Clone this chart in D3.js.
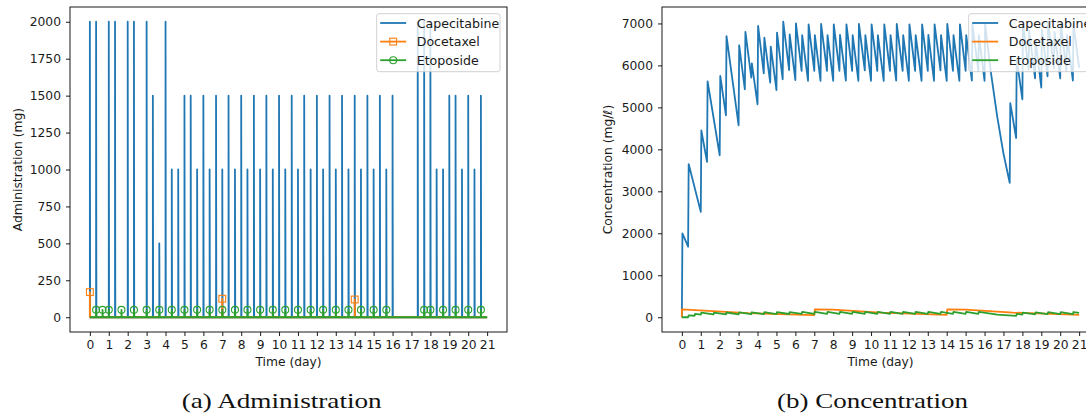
<!DOCTYPE html>
<html>
<head>
<meta charset="utf-8">
<script src="https://cdn.jsdelivr.net/npm/d3@7"></script>
<style>
  body { margin: 0; background: #fff; }
  svg { display: block; font-family: "DejaVu Sans", sans-serif; }
</style>
</head>
<body>
<svg id="chart" width="1086" height="414"></svg>
<script>
// ---- Dosing schedule: Capecitabine (day, mg) ----
const capeDoseDays = [0, 0.33, 1, 1.33, 2, 2.33, 3, 3.33, 3.67, 4,
  4.33, 4.67, 5, 5.33, 5.67, 6, 6.33, 6.67, 7, 7.33,
  7.67, 8, 8.33, 8.67, 9, 9.33, 9.67, 10, 10.33, 10.67,
  11, 11.33, 11.67, 12, 12.33, 12.67, 13, 13.33, 13.67, 14,
  14.33, 14.67, 15, 15.33, 15.67, 16,
  17.33, 17.67, 18, 18.33, 18.67, 19, 19.33, 19.67, 20, 20.33, 20.67];
const capeDoseMg = [2000, 2000, 2000, 2000, 2000, 2000, 2000, 1500, 500, 2000,
  1000, 1000, 1500, 1500, 1000, 1500, 1000, 1500, 1000, 1500,
  1000, 1500, 1000, 1500, 1000, 1500, 1000, 1500, 1000, 1500,
  1000, 1500, 1000, 1500, 1000, 1500, 1000, 1500, 1000, 1500,
  1000, 1500, 1000, 1500, 1000, 1500,
  2000, 2000, 2000, 1000, 1000, 1500, 1500, 1000, 1500, 1000, 1500];

// ---- Dosing schedule: Docetaxel ----
const doceDoseDays = [0, 7, 14];
const doceDoseMg = [170, 125, 120];

// ---- Dosing schedule: Etoposide ----
const etopDoseDays = [0.33, 0.67, 1, 1.67, 2.33, 3, 3.67, 4.33, 5, 5.67,
  6.33, 7, 7.67, 8.33, 9, 9.67, 10.33, 11, 11.67, 12.33,
  13, 13.67, 14.33, 15, 15.67, 17.67, 18, 18.67, 19.33, 20, 20.67];
const etopDoseMg = etopDoseDays.map(() => 50);

// ---- Plasma concentration: Capecitabine, value just before / just after each dose ----
const capeTrough = [0, 1680, 2510, 3700, 3860, 4810, 4570, 5430, 5710, 5070,
  5810, 5590, 5410, 5670, 5890, 5650, 5870, 5630, 5870, 5630,
  5870, 5630, 5870, 5640, 5870, 5630, 5880, 5630, 5870, 5630,
  5870, 5640, 5870, 5630, 5870, 5630, 5870, 5630, 5880, 5630,
  5870, 5630, 5870, 5640, 5870, 5630,
  3200, 4270, 5190, 5900, 5690, 5470, 5740, 5930, 5690, 5870, 5640];
const capePeak = [2000, 3650, 4450, 5620, 5750, 6700, 6480, 6800, 6050, 6940,
  6660, 6450, 6780, 7040, 6740, 7000, 6720, 6980, 6720, 6990,
  6720, 6980, 6730, 6980, 6720, 6990, 6720, 6980, 6720, 6980,
  6720, 6990, 6720, 6980, 6720, 6980, 6730, 6980, 6720, 6990,
  6720, 6980, 6720, 6980, 6720, 6980,
  5100, 6150, 7030, 6820, 6600, 6850, 7040, 6800, 7000, 6730, 6990];
// washout between day 16 and day 17.33, and the last sample
const capeGapDays = [16.33, 16.67, 17.0, 21];
const capeGapMg = [5850, 4780, 3900, 5950];

// ---- Plasma concentration: Docetaxel ----
const doceConcDays = [0, 0, 3.5, 7, 7.03, 8, 10.5, 14, 14.03, 15, 17.5, 21];
const doceConcMg = [0, 185, 98, 50, 188, 180, 110, 55, 188, 180, 110, 55];

// ---- Plasma concentration: Etoposide ----
const etopTrough = [0, 35, 63, 66, 68, 70, 73, 74, 76, 77,
  78, 79, 79, 80, 80, 80, 80, 80, 80, 80,
  80, 80, 80, 80, 80, 30, 62, 68, 72, 74, 76];
const etopPeak = [45, 80, 108, 111, 113, 116, 118, 120, 122, 123,
  125, 126, 127, 128, 128, 128, 128, 128, 128, 128,
  128, 128, 128, 128, 128, 78, 110, 116, 120, 122, 124];
const etopExtraDays = [0, 16.67, 21];
const etopExtraMg = [0, 62, 102];

const seriesNames = ["Capecitabine", "Docetaxel", "Etoposide"];
const dayTicks = d3.range(0, 22);
const adminTicks = d3.range(0, 2001, 250);
const concTicks = d3.range(0, 7001, 1000);

// ---- drawing ----
const svg = d3.select("#chart");
const COLORS = ["#1f77b4", "#ff7f0e", "#2ca02c"];
const PW = 437, PH = 325, TOP = 7;
const RISE = 0.03;   // days from pre-dose sample to post-dose sample
const STEP = 0.015;  // sampling step of the dose pulses
const LW = 1.8;
const FS = "12.3px";

function pad(ext) {
  const r = ext[1] - ext[0];
  return [ext[0] - 0.05 * r, ext[1] + 0.05 * r];
}

function panel(idx, left, yDomain, yTicks, yLabel, yLabelX) {
  const x = d3.scaleLinear().domain(pad([0, 21])).range([left, left + PW]);
  const y = d3.scaleLinear().domain(yDomain).range([TOP + PH, TOP]);
  const g = svg.append("g");
  const cid = "clip" + idx;
  svg.append("defs").append("clipPath").attr("id", cid)
    .append("rect").attr("x", left).attr("y", TOP).attr("width", PW).attr("height", PH);
  const plot = g.append("g").attr("clip-path", `url(#${cid})`);
  const axes = g.append("g");

  const xa = axes.append("g").attr("transform", `translate(0,${TOP + PH})`)
    .call(d3.axisBottom(x).tickValues(dayTicks).tickFormat(d3.format("d")).tickSize(4).tickPadding(4.5).tickSizeOuter(0));
  const ya = axes.append("g").attr("transform", `translate(${left},0)`)
    .call(d3.axisLeft(y).tickValues(yTicks).tickFormat(d3.format("d")).tickSize(4).tickPadding(5).tickSizeOuter(0));
  [xa, ya].forEach(a => {
    a.select(".domain").remove();
    a.selectAll("line").attr("stroke", "#000").attr("stroke-width", 0.9);
    a.selectAll("text").attr("fill", "#1a1a1a").style("font-size", FS).style("font-family", "DejaVu Sans");
  });

  axes.append("text").attr("x", x(10.5)).attr("y", 366)
    .attr("text-anchor", "middle").style("font-size", FS).attr("fill", "#1a1a1a")
    .text("Time (day)");
  axes.append("text").attr("transform", `translate(${yLabelX},${TOP + PH / 2}) rotate(-90)`)
    .attr("text-anchor", "middle").attr("dy", "0.35em").style("font-size", FS).attr("fill", "#1a1a1a")
    .text(yLabel);
  return { x, y, plot, axes, left };
}

function frame(p) {
  p.axes.append("rect").attr("x", p.left).attr("y", TOP).attr("width", PW).attr("height", PH)
    .attr("fill", "none").attr("stroke", "#000").attr("stroke-width", 0.9);
}

function drawLine(p, pts, color) {
  const line = d3.line().x(d => p.x(d[0])).y(d => p.y(d[1]));
  p.plot.append("path").attr("d", line(pts)).attr("fill", "none")
    .attr("stroke", color).attr("stroke-width", LW).attr("stroke-linejoin", "round");
}

function spikes(days, mg) {
  const pts = [[0, 0]];
  days.forEach((t, i) => { pts.push([t, 0], [t, mg[i]], [t + STEP, 0]); });
  pts.push([21, 0]);
  return pts;
}

function square(sel, cx, cy, color) {
  sel.append("rect").attr("x", cx - 3.4).attr("y", cy - 3.4).attr("width", 6.8).attr("height", 6.8)
    .attr("fill", "none").attr("stroke", color).attr("stroke-width", 1.1);
}
function circle(sel, cx, cy, color) {
  sel.append("circle").attr("cx", cx).attr("cy", cy).attr("r", 3.5)
    .attr("fill", "none").attr("stroke", color).attr("stroke-width", 1.1);
}

function legend(p, withMarkers) {
  const bx = p.left + 306.7, by = 13.7;
  const lg = p.axes.append("g");
  lg.append("rect").attr("x", bx).attr("y", by).attr("width", 123.3).attr("height", 58)
    .attr("rx", 2.5).attr("fill", "#fff").attr("fill-opacity", 0.8)
    .attr("stroke", "#cccccc").attr("stroke-width", 0.9);
  seriesNames.forEach((name, i) => {
    const ry = by + 9.3 + i * 18.6;
    lg.append("line").attr("x1", bx + 3.5).attr("x2", bx + 29.5).attr("y1", ry).attr("y2", ry)
      .attr("stroke", COLORS[i]).attr("stroke-width", LW);
    if (withMarkers && i === 1) square(lg, bx + 16.5, ry, COLORS[i]);
    if (withMarkers && i === 2) circle(lg, bx + 16.5, ry, COLORS[i]);
    lg.append("text").attr("x", bx + 40).attr("y", ry).attr("dy", "0.36em")
      .style("font-size", "12.6px").attr("fill", "#1a1a1a").text(name);
  });
}

// (a) Administration
const pa = panel(0, 70, pad([0, 2000]), adminTicks, "Administration (mg)", 18);
drawLine(pa, spikes(capeDoseDays, capeDoseMg), COLORS[0]);
drawLine(pa, spikes(doceDoseDays, doceDoseMg), COLORS[1]);
doceDoseDays.forEach((t, i) => square(pa.plot, pa.x(t), pa.y(doceDoseMg[i]), COLORS[1]));
drawLine(pa, spikes(etopDoseDays, etopDoseMg), COLORS[2]);
etopDoseDays.forEach((t, i) => circle(pa.plot, pa.x(t), pa.y(etopDoseMg[i]), COLORS[2]));
frame(pa);
legend(pa, true);

// (b) Concentration
const capeConc = [];
capeDoseDays.forEach((t, i) => { capeConc.push([t, capeTrough[i]], [t + RISE, capePeak[i]]); });
capeGapDays.forEach((t, i) => capeConc.push([t, capeGapMg[i]]));
capeConc.sort((a, b) => a[0] - b[0]);

const doceConc = doceConcDays.map((t, i) => [t, doceConcMg[i]]);

const etopConc = [];
etopDoseDays.forEach((t, i) => { etopConc.push([t, etopTrough[i]], [t + RISE, etopPeak[i]]); });
etopExtraDays.forEach((t, i) => etopConc.push([t, etopExtraMg[i]]));
etopConc.sort((a, b) => a[0] - b[0]);

const allConc = capeConc.concat(doceConc, etopConc).map(d => d[1]);
const pb = panel(1, 662, pad(d3.extent(allConc)), concTicks, "Concentration (mg/\u2113)", 608);
drawLine(pb, capeConc, COLORS[0]);
drawLine(pb, doceConc, COLORS[1]);
drawLine(pb, etopConc, COLORS[2]);
frame(pb);
legend(pb, false);

// captions
const caps = [["(a) Administration", 281.7, 200], ["(b) Concentration", 872.5, 191]];
caps.forEach(c => {
  svg.append("text").attr("x", c[1]).attr("y", 407.5).attr("text-anchor", "middle")
    .attr("textLength", c[2]).attr("lengthAdjust", "spacingAndGlyphs")
    .style("font-family", "'Liberation Serif', serif").style("font-size", "22px").attr("fill", "#111")
    .text(c[0]);
});
</script>
</body>
</html>
